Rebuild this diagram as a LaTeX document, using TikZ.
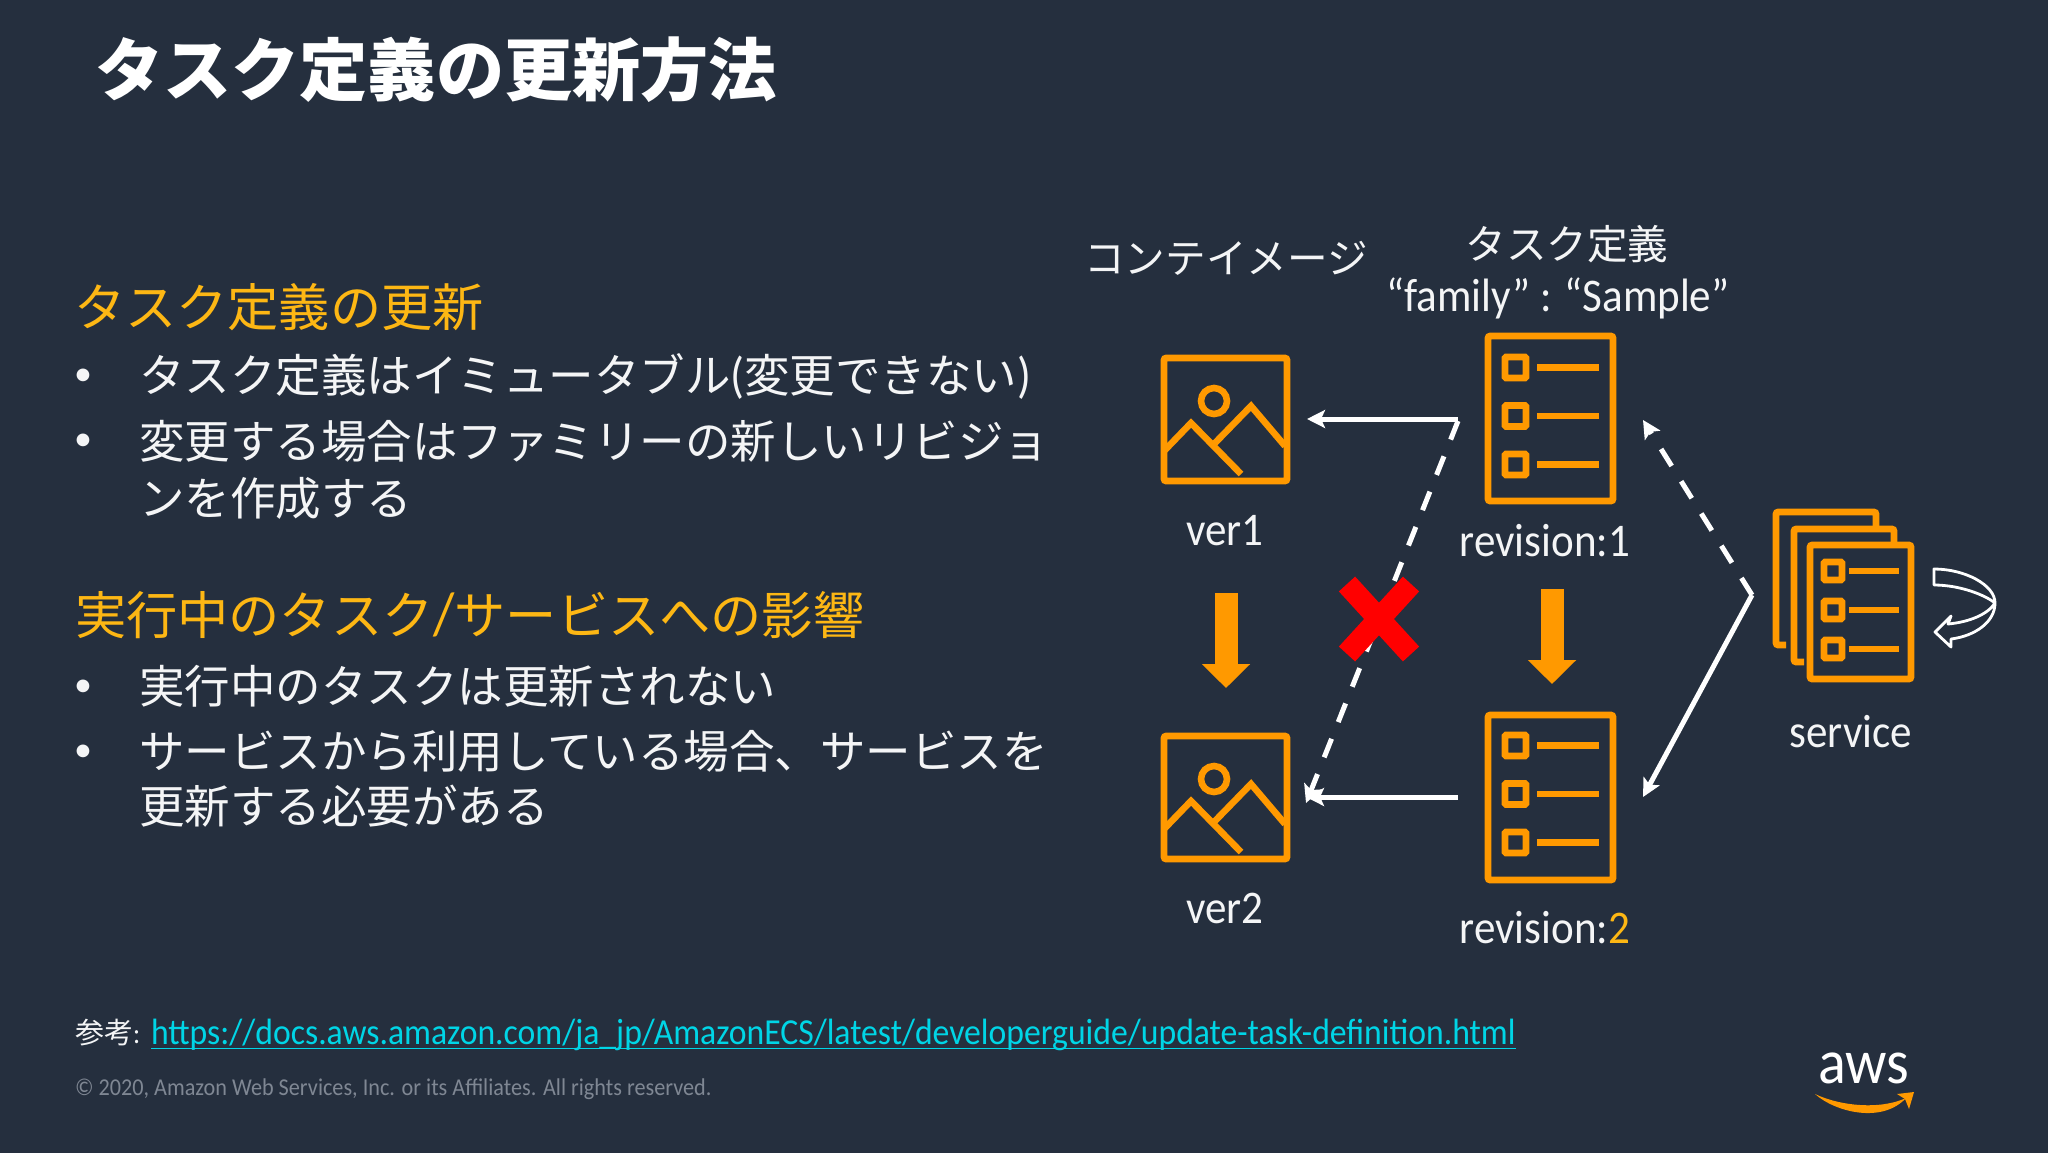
\documentclass[tikz,border=0pt]{standalone}
\usepackage{fontspec}
\setmainfont{Noto Sans CJK JP}
\newfontfamily\lat[FakeStretch=0.92]{Carlito}
\newfontfamily\latb{Carlito}
\usetikzlibrary{arrows.meta}
\definecolor{bgc}{HTML}{252F3E}
\definecolor{orng}{HTML}{FF9900}
\definecolor{gold}{HTML}{FDB714}
\definecolor{linkc}{HTML}{00D5E6}
\definecolor{grayc}{HTML}{7F8793}
\definecolor{txtc}{HTML}{F4F5F6}
\newcommand{\fs}[1]{\fontsize{#1}{#1}\selectfont}
\tikzset{
 every node/.style={inner sep=0pt,outer sep=0pt},
 txt/.style={text=txtc,font=\fs{22.75}},
 headtxt/.style={text=gold,font=\fs{25.6},anchor=west},
 bodytxt/.style={txt,anchor=west},
 bulletdot/.style={text=txtc,font=\latb\fs{18}},
 lbl/.style={text=txtc,font=\lat\fs{23.4},anchor=center},
 iconbox/.style={draw=orng,line width=3.3pt,rounded corners=1pt,anchor=north west},
 iconline/.style={draw=orng,line width=3.3pt},
 wline/.style={draw=white,line width=2.5pt,-{Stealth[length=9pt,width=9pt,inset=2pt]}},
 wdash/.style={wline,dash pattern=on 10pt off 9pt},
 bigarrow/.style={draw=orng,line width=11.5pt,-{Triangle[length=12pt,width=23.5pt]}},
 redx/.style={draw=red,line width=11pt},
}
% image icon
\newcommand{\imgicon}[3]{%
 \begin{scope}[shift={(#2,#3)}]
  \node[iconbox,minimum width=61.5pt,minimum height=61.5pt] (#1) at (4,4) {};
  \draw[iconline] (54,47) circle (6.5pt);
  \draw[iconline] (4,97) -- (31,69) -- (81,120);
  \draw[iconline] (54,90) -- (91,52) -- (125,92);
 \end{scope}}
% list rows
\newcommand{\listrows}[6]{% x y sq size, line x1 x2 , step
 \foreach \k in {0,1,2}{
  \draw[iconline,rounded corners=0.5pt] ({#1},{#2+\k*#6}) rectangle ++(#3,#3);
  \draw[iconline] ({#4},{#2+#3/2+\k*#6}) -- ({#5},{#2+#3/2+\k*#6});
 }}
\begin{document}
\begin{tikzpicture}[x=0.5pt,y=-0.5pt]
\useasboundingbox (0,0) rectangle (2048,1152);
\fill[bgc] (-10,-10) rectangle (2058,1162);

\node[anchor=west,text=white,font=\bfseries\fs{34.1}] (title) at (95,70) {タスク定義の更新方法};

\node[headtxt] (h1) at (74,307) {タスク定義の更新};
\node[bulletdot] (b1) at (83,377) {•};
\node[bodytxt] (l1) at (139,376) {タスク定義はイミュータブル{\lat\fs{25}(}変更できない{\lat\fs{25})}};
\node[bulletdot] (b2) at (83,442) {•};
\node[bodytxt] (l2) at (139,441) {変更する場合はファミリーの新しいリビジョ};
\node[bodytxt] (l3) at (139,498) {ンを作成する};
\node[headtxt] (h2) at (75,615) {実行中のタスク{\lat\fs{30}/}サービスへの影響};
\node[bulletdot] (b3) at (83,688) {•};
\node[bodytxt] (l4) at (139,686) {実行中のタスクは更新されない};
\node[bulletdot] (b4) at (83,753) {•};
\node[bodytxt] (l5) at (139,751) {サービスから利用している場合、サービスを};
\node[bodytxt] (l6) at (139,806) {更新する必要がある};

% labels
\node[text=txtc,font=\fs{20.3}] (cimg) at (1226,258) {コンテイメージ};
\node[text=txtc,font=\fs{20.3}] (tdef) at (1567,244) {タスク定義};
\node[lbl] (fam) at (1558,298) {“family” : “Sample”};
\node[lbl] (v1l) at (1225,531) {ver1};
\node[lbl] (v2l) at (1225,908) {ver2};
\node[lbl] (r1l) at (1545,541) {revision:1};
\node[lbl] (r2l) at (1545,928) {revision:{\color{gold}2}};
\node[lbl] (svl) at (1851,732) {service};

% icons
\imgicon{ver1}{1160}{354}
\imgicon{ver2}{1160}{732}
\node[iconbox,minimum width=62.5pt,minimum height=82.5pt] (rev1) at (1488,336) {};
\node[iconbox,minimum width=62.5pt,minimum height=82.5pt] (rev2) at (1488,715) {};
\listrows{1505}{357}{21}{1537}{1599}{48.5}
\listrows{1505}{735}{21}{1537}{1599}{48.5}
% service stack
\draw[iconline,rounded corners=1pt] (1786,645) -- (1776,645) -- (1776,512) -- (1876,512) -- (1876,529);
\draw[iconline,rounded corners=1pt] (1804,662) -- (1794,662) -- (1794,529) -- (1894,529) -- (1894,545);
\node[iconbox,minimum width=50.5pt,minimum height=67pt] (svc) at (1810,545) {};
\listrows{1824}{562}{18}{1849}{1899}{39}

% connector ends
\coordinate (a1) at (1458,419);
\coordinate (a1e) at (1307,419);
\coordinate (a2) at (1458,797);
\coordinate (a2e) at (1306,797);
\coordinate (a3) at (1458,421);
\coordinate (a3e) at (1306,803);
\coordinate (sv) at (1752,595);
\coordinate (s1) at (1643,420);
\coordinate (s2) at (1643,797);
\coordinate (o1) at (1226,593);
\coordinate (o1e) at (1226,688);
\coordinate (o2) at (1552,589);
\coordinate (o2e) at (1552,684);

\draw[wline] (a1) -- (a1e);
\draw[wline] (a2) -- (a2e);
\draw[wdash] (a3) -- (a3e);
\draw[wdash] (sv) -- (s1);
\draw[wline] (sv) -- (s2);
\draw[bigarrow] (o1) -- (o1e);
\draw[bigarrow] (o2) -- (o2e);
\draw[redx] (1347,584) -- (1411,654);
\draw[redx] (1411,584) -- (1347,654);

% curled arrow
\draw[white,line width=1.4pt,line join=round]
 (1934,569) .. controls (1965,569) and (1995,585) .. (1995,603)
 .. controls (1995,622) and (1975,636) .. (1951,639)
 -- (1951,647) -- (1935,632) -- (1951,616) -- (1948,624)
 .. controls (1970,622) and (1988,614) .. (1995,603)
 .. controls (1985,595) and (1960,585) .. (1934,585) -- cycle;

% footer
\node[anchor=west,text=txtc,font=\fs{14.5}] (ref) at (75,1033) {参考{\lat:}};
\node[anchor=west,text=linkc,font=\lat\fs{18.3}] (url) at (151,1035) {https://docs.aws.amazon.com/ja\_jp/AmazonECS/latest/developerguide/update-task-definition.html};
\draw[linkc,line width=0.9pt] ([yshift=-2pt]url.base west) -- ([yshift=-2pt]url.base east);
\node[anchor=west,text=grayc,font=\lat\fs{12.07}] (copy) at (75,1089) {© 2020, Amazon Web Services, Inc. or its Affiliates. All rights reserved.};

% aws logo
\node[text=white,font=\lat\fs{31.5}] (aws) at (1864,1068) {aws};
\fill[orng] (1815,1094) .. controls (1835,1112) and (1882,1124) .. (1906,1098)
 .. controls (1880,1110) and (1840,1106) .. (1815,1094) -- cycle;
\fill[orng] (1897,1094) -- (1914,1092) -- (1909,1109) -- (1905,1099) -- cycle;
\end{tikzpicture}
\end{document}
